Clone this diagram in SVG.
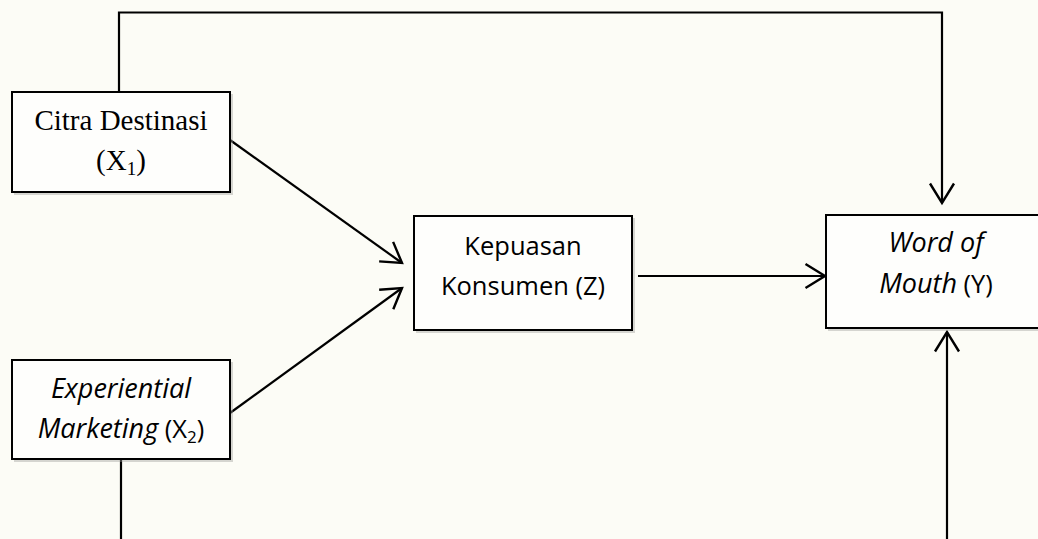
<svg xmlns="http://www.w3.org/2000/svg" width="1038" height="539" viewBox="0 0 1038 539">
<defs>
<style>
.box{fill:#fefefc;stroke:#000;stroke-width:2}
.shadow{fill:#9a9a98;opacity:0.4}
.conn{fill:none;stroke:#000;stroke-width:2.2}
.serif{font-family:"Liberation Serif","Times New Roman",serif;font-size:29px;fill:#000;text-anchor:middle}
.sans{font-family:"Open Sans","Noto Sans",sans-serif;font-size:25.5px;fill:#000;text-anchor:middle}
.it{font-style:italic;font-size:27px}
</style>
<marker id="arr" markerUnits="userSpaceOnUse" markerWidth="30" markerHeight="30" refX="16" refY="10" orient="auto" viewBox="0 0 20 20">
<path d="M3,2 L16,10 L3,18" fill="none" stroke="#000" stroke-width="1.6"/>
</marker>
</defs>
<rect width="1038" height="539" fill="#fcfcf6"/>
<g id="connectors">
<polyline class="conn" points="119,92 119,12.5 942,12.5 942,203" marker-end="url(#arr)"/>
<line class="conn" x1="230" y1="140" x2="402" y2="263" marker-end="url(#arr)"/>
<line class="conn" x1="230" y1="413" x2="402" y2="288" marker-end="url(#arr)"/>
<line class="conn" x1="638" y1="276" x2="825" y2="276" marker-end="url(#arr)"/>
<polyline class="conn" points="121,459 121,539"/>
<line class="conn" x1="947" y1="539" x2="947" y2="332" marker-end="url(#arr)"/>
</g>
<g id="node-x1">
<rect class="shadow" x="14" y="94" width="219" height="101"/>
<rect class="box" x="12" y="92" width="218" height="100"/>
<text class="serif" x="121" y="130">Citra Destinasi</text>
<text class="serif" x="121" y="170">(X<tspan font-size="19" dy="5">1</tspan><tspan dy="-5">)</tspan></text>
</g>
<g id="node-x2">
<rect class="shadow" x="14" y="362" width="219" height="100"/>
<rect class="box" x="12" y="360" width="218" height="99"/>
<text class="sans it" x="121" y="398">Experiential</text>
<text class="sans" x="121" y="438"><tspan class="it">Marketing</tspan> (X<tspan font-size="17" dy="5">2</tspan><tspan dy="-5">)</tspan></text>
</g>
<g id="node-z">
<rect class="shadow" x="416" y="218" width="219" height="115"/>
<rect class="box" x="414" y="216" width="218" height="114"/>
<text class="sans" x="523" y="255">Kepuasan</text>
<text class="sans" x="523" y="295">Konsumen (Z)</text>
</g>
<g id="node-y">
<rect class="shadow" x="828" y="217" width="230" height="114"/>
<rect class="box" x="826" y="215" width="230" height="113"/>
<text class="sans it" x="936" y="252">Word of</text>
<text class="sans" x="936" y="293"><tspan class="it">Mouth</tspan> (Y)</text>
</g>
</svg>
